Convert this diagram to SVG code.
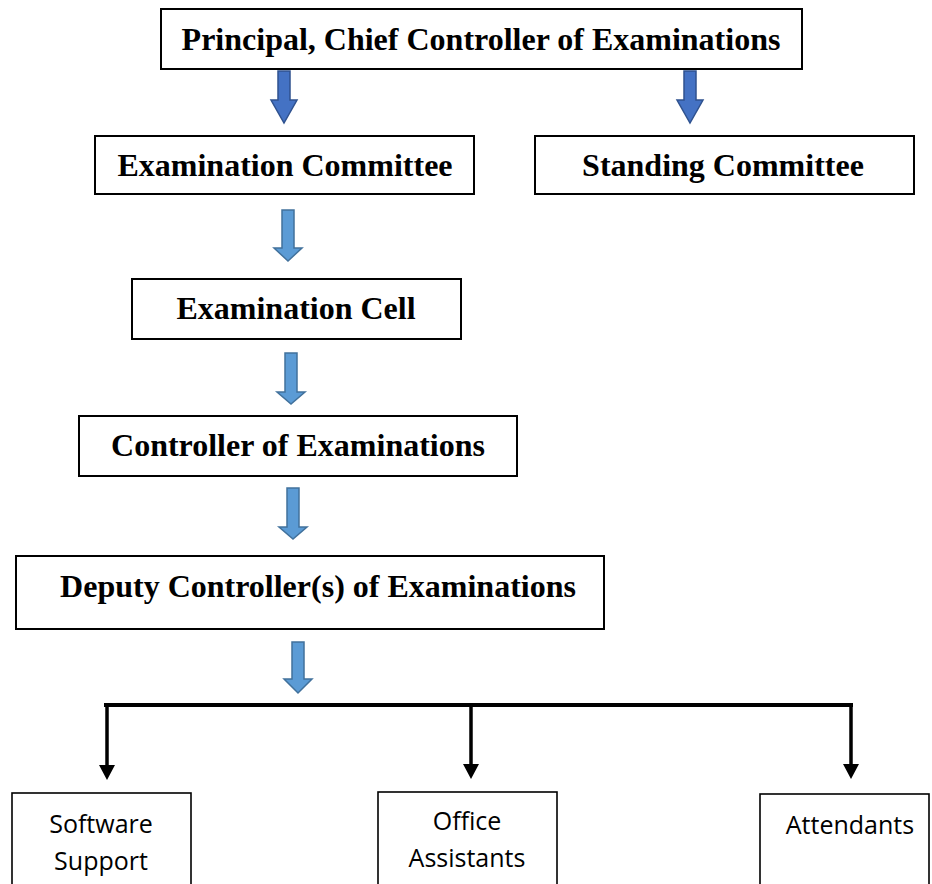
<svg xmlns="http://www.w3.org/2000/svg" width="932" height="884" viewBox="0 0 932 884">
<defs>
<style>
.box{fill:#fff;stroke:#000;stroke-width:2}
.sbox{fill:#fff;stroke:#000;stroke-width:1.6}
.t{font-family:"Liberation Serif","Times New Roman",serif;font-weight:bold;font-size:32px;fill:#000;text-anchor:middle}
.s{font-family:"Open Sans","Liberation Sans",sans-serif;font-size:25px;fill:#000;text-anchor:middle}
.dark{fill:#4472C4;stroke:#2F528F;stroke-width:1.5}
.light{fill:#5B9BD5;stroke:#41719C;stroke-width:1.5}
.conn{stroke:#000;fill:none}
</style>
<marker id="ah" viewBox="0 0 16 16" markerWidth="16" markerHeight="16" refX="0" refY="8" orient="auto" markerUnits="userSpaceOnUse">
<path d="M0,0 L15,8 L0,16 z" fill="#000"/>
</marker>
</defs>

<g id="connectors">
<polygon class="dark" points="278,71 290,71 290,100 297,100 284,123 271,100 278,100"/>
<polygon class="dark" points="684,71 696,71 696,100 703,100 690,123 677,100 684,100"/>
<polygon class="light" points="282,210 294,210 294,248 302,248 288,261 274,248 282,248"/>
<polygon class="light" points="285,353 297,353 297,392 305,392 291,404 277,392 285,392"/>
<polygon class="light" points="287,488 299,488 299,527 307,527 293,539 279,527 287,527"/>
<polygon class="light" points="292,642 304,642 304,679 312,679 298,693 284,679 292,679"/>
<line class="conn" x1="104" y1="705" x2="853" y2="705" stroke-width="4"/>
<line class="conn" x1="107" y1="705" x2="107" y2="765" stroke-width="3.5" marker-end="url(#ah)"/>
<line class="conn" x1="471" y1="705" x2="471" y2="764" stroke-width="3.5" marker-end="url(#ah)"/>
<line class="conn" x1="851" y1="705" x2="851" y2="764" stroke-width="3.5" marker-end="url(#ah)"/>
</g>

<g id="principal">
<rect class="box" x="161" y="9" width="641" height="60" stroke-width="2.5"/>
<text class="t" x="481" y="50">Principal, Chief Controller of Examinations</text>
</g>
<g id="exam-committee">
<rect class="box" x="95" y="136" width="379" height="58"/>
<text class="t" x="285" y="176">Examination Committee</text>
</g>
<g id="standing-committee">
<rect class="box" x="535" y="136" width="379" height="58"/>
<text class="t" x="723" y="176">Standing Committee</text>
</g>
<g id="exam-cell">
<rect class="box" x="132" y="279" width="329" height="60"/>
<text class="t" x="296" y="319">Examination Cell</text>
</g>
<g id="controller">
<rect class="box" x="79" y="416" width="438" height="60"/>
<text class="t" x="298" y="456">Controller of Examinations</text>
</g>
<g id="deputy">
<rect class="box" x="16" y="556" width="588" height="73"/>
<text class="t" x="318" y="597">Deputy Controller(s) of Examinations</text>
</g>
<g id="software-support">
<rect class="sbox" x="12" y="793" width="179" height="110"/>
<text class="s" x="101" y="833">Software</text>
<text class="s" x="101" y="870">Support</text>
</g>
<g id="office-assistants">
<rect class="sbox" x="378" y="792" width="179" height="110"/>
<text class="s" x="467" y="830">Office</text>
<text class="s" x="467" y="867">Assistants</text>
</g>
<g id="attendants">
<rect class="sbox" x="760" y="794" width="169" height="110"/>
<text class="s" x="850" y="834">Attendants</text>
</g>
</svg>
